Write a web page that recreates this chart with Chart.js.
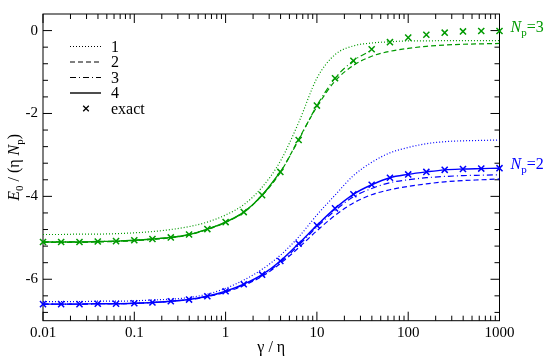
<!DOCTYPE html>
<html>
<head>
<meta charset="utf-8">
<script src="https://cdn.jsdelivr.net/npm/chart.js@4"></script>
<style>
  html, body { margin: 0; padding: 0; background: #fff; }
  canvas { display: block; }
</style>
</head>
<body>
<canvas id="chart" width="545" height="357"></canvas>
<script>
// gamma / eta sample points (log spaced)
const gammaOverEta = [0.01, 0.0158, 0.0251, 0.0398, 0.0631, 0.1, 0.158, 0.251, 0.398, 0.631,
                      1, 1.58, 2.51, 3.98, 6.31, 10, 15.8, 25.1, 39.8, 63.1,
                      100, 158, 251, 398, 631, 1000];

const xTicks = [0.01, 0.1, 1, 10, 100, 1000];
const yTicks = [-6, -4, -2, 0];
const curveLabels = ['1', '2', '3', '4', 'exact'];

// N_p = 3 (green)
const np3Curve1 = [-4.92, -4.92, -4.91, -4.91, -4.90, -4.88, -4.85, -4.80, -4.73, -4.62,
                   -4.45, -4.20, -3.78, -3.15, -2.22, -1.15, -0.58, -0.37, -0.30, -0.27,
                   -0.25, -0.25, -0.24, -0.24, -0.24, -0.24];
const np3Curve2 = [-5.11, -5.11, -5.11, -5.10, -5.09, -5.07, -5.04, -5.00, -4.93, -4.80,
                   -4.63, -4.39, -3.98, -3.42, -2.62, -1.84, -1.22, -0.84, -0.62, -0.50,
                   -0.43, -0.38, -0.35, -0.33, -0.32, -0.31];
const np3Curve3 = [-5.10, -5.10, -5.10, -5.09, -5.08, -5.06, -5.03, -4.99, -4.92, -4.79,
                   -4.62, -4.38, -3.97, -3.41, -2.64, -1.81, -1.15, -0.73, -0.47];
const np3Curve4 = [-5.10, -5.10, -5.10, -5.09, -5.08, -5.06, -5.03, -4.99, -4.92, -4.79,
                   -4.62, -4.38, -3.97, -3.41];
const np3Exact  = [-5.10, -5.10, -5.10, -5.09, -5.08, -5.06, -5.03, -4.99, -4.92, -4.79,
                   -4.62, -4.38, -3.97, -3.41, -2.64, -1.81, -1.15, -0.73, -0.45, -0.28,
                   -0.17, -0.10, -0.05, -0.02, -0.01, -0.01];

// N_p = 2 (blue)
const np2Curve1 = [-6.54, -6.54, -6.54, -6.53, -6.53, -6.52, -6.50, -6.48, -6.44, -6.36,
                   -6.22, -6.02, -5.76, -5.42, -4.98, -4.45, -3.97, -3.50, -3.18, -2.95,
                   -2.82, -2.73, -2.68, -2.66, -2.65, -2.64];
const np2Curve2 = [-6.60, -6.60, -6.60, -6.59, -6.59, -6.58, -6.56, -6.53, -6.49, -6.42,
                   -6.31, -6.15, -5.93, -5.62, -5.24, -4.83, -4.46, -4.16, -3.96, -3.84,
                   -3.76, -3.70, -3.65, -3.62, -3.60, -3.58];
const np2Curve3 = [-6.60, -6.60, -6.60, -6.59, -6.59, -6.58, -6.56, -6.53, -6.49, -6.41,
                   -6.30, -6.13, -5.91, -5.59, -5.18, -4.74, -4.34, -4.01, -3.81, -3.67,
                   -3.60, -3.55, -3.52, -3.50, -3.49, -3.48];
const np2Curve4 = [-6.60, -6.60, -6.60, -6.59, -6.59, -6.58, -6.56, -6.53, -6.49, -6.41,
                   -6.29, -6.12, -5.89, -5.56, -5.14, -4.70, -4.29, -3.95, -3.72, -3.55,
                   -3.47, -3.41, -3.36, -3.34, -3.33, -3.32];
const np2Exact  = [-6.60, -6.60, -6.60, -6.59, -6.59, -6.58, -6.56, -6.53, -6.49, -6.41,
                   -6.29, -6.12, -5.89, -5.56, -5.14, -4.70, -4.29, -3.95, -3.72, -3.55,
                   -3.47, -3.41, -3.36, -3.34, -3.33, -3.32];

const GREEN = '#009a00';
const BLUE = '#0000ff';
const FONT = "'Liberation Serif', 'DejaVu Serif', serif";

// dash pattern for the curve types 1..4
const dashes = [[1, 2], [5, 3], [6, 3, 1, 3], []];
const widths = [1.2, 1.2, 1.2, 1.4];

function toPoints(values) {
  return values.map((v, i) => ({ x: gammaOverEta[i], y: v }));
}

function curve(values, color, kind) {
  return {
    label: curveLabels[kind],
    data: toPoints(values),
    borderColor: color,
    borderWidth: widths[kind],
    borderDash: dashes[kind],
    pointRadius: 0,
    fill: false,
    cubicInterpolationMode: 'monotone'
  };
}

function exact(values, color) {
  return {
    label: 'exact',
    data: toPoints(values),
    showLine: false,
    borderColor: color,
    borderWidth: 1.5,
    pointStyle: 'crossRot',
    pointRadius: 4.3,
    clip: false
  };
}

// frame, inward ticks, legend and the math-style labels
const decorations = {
  id: 'decorations',
  beforeDatasetsDraw(chart) {
    const { ctx, chartArea: a, scales: { x, y } } = chart;
    ctx.save();
    ctx.strokeStyle = '#000';
    ctx.lineWidth = 1;
    ctx.strokeRect(a.left, a.top, a.right - a.left, a.bottom - a.top);

    ctx.beginPath();
    // x ticks, major and minor, on bottom and top
    for (let d = 0.01; d < 1001; d *= 10) {
      for (let m = 1; m <= 9; m++) {
        const v = d * m;
        if (v > 1000.001) break;
        const px = x.getPixelForValue(v);
        const len = m === 1 ? 9 : 5;
        ctx.moveTo(px, a.bottom); ctx.lineTo(px, a.bottom - len);
        ctx.moveTo(px, a.top); ctx.lineTo(px, a.top + len);
      }
    }
    // y ticks every 0.4, majors every 2
    for (let k = -17; k <= 0; k++) {
      const v = k * 0.4;
      const py = y.getPixelForValue(v);
      const len = k % 5 === 0 ? 9 : 5;
      ctx.moveTo(a.left, py); ctx.lineTo(a.left + len, py);
      ctx.moveTo(a.right, py); ctx.lineTo(a.right - len, py);
    }
    ctx.stroke();
    ctx.restore();
  },
  afterDraw(chart) {
    const { ctx, chartArea: a, scales: { y } } = chart;
    ctx.save();

    // legend
    const lx = a.left + 27, ly = a.top + 32.5, step = 15.5;
    ctx.font = '16px ' + FONT;
    ctx.textBaseline = 'middle';
    ctx.fillStyle = '#000';
    ctx.strokeStyle = '#000';
    curveLabels.forEach((lab, i) => {
      const yy = ly + i * step;
      if (i < 4) {
        ctx.lineWidth = widths[i];
        ctx.setLineDash(dashes[i]);
        ctx.beginPath();
        ctx.moveTo(lx, yy); ctx.lineTo(lx + 31, yy);
        ctx.stroke();
      } else {
        ctx.setLineDash([]);
        ctx.lineWidth = 1.3;
        const cx = lx + 16, r = 2.8;
        ctx.beginPath();
        ctx.moveTo(cx - r, yy - r); ctx.lineTo(cx + r, yy + r);
        ctx.moveTo(cx - r, yy + r); ctx.lineTo(cx + r, yy - r);
        ctx.stroke();
      }
      ctx.fillText(lab, lx + 41, yy + 1);
    });
    ctx.setLineDash([]);

    // pieces of text with italic letters and subscripts
    function drawParts(parts, x0, y0) {
      let xx = x0;
      parts.forEach(p => {
        ctx.font = (p.italic ? 'italic ' : '') + (p.sub ? 11 : 16) + 'px ' + FONT;
        ctx.fillText(p.t, xx, y0 + (p.sub ? 4 : 0));
        xx += ctx.measureText(p.t).width;
      });
    }
    function partsWidth(parts) {
      let w = 0;
      parts.forEach(p => {
        ctx.font = (p.italic ? 'italic ' : '') + (p.sub ? 11 : 16) + 'px ' + FONT;
        w += ctx.measureText(p.t).width;
      });
      return w;
    }

    ctx.textBaseline = 'alphabetic';
    ctx.textAlign = 'left';

    // N_p labels at the end of the exact points
    const lastX = a.right + 11;
    ctx.fillStyle = GREEN;
    drawParts([{ t: 'N', italic: true }, { t: 'p', sub: true }, { t: '=3' }],
      lastX, y.getPixelForValue(np3Exact[np3Exact.length - 1]) + 1);
    ctx.fillStyle = BLUE;
    drawParts([{ t: 'N', italic: true }, { t: 'p', sub: true }, { t: '=2' }],
      lastX, y.getPixelForValue(np2Exact[np2Exact.length - 1]) + 1);

    // axis titles
    ctx.fillStyle = '#000';
    const xTitle = [{ t: 'γ / η' }];
    drawParts(xTitle, (a.left + a.right) / 2 - partsWidth(xTitle) / 2, 352);

    const yTitle = [{ t: 'E', italic: true }, { t: '0', sub: true }, { t: ' / (η ' },
                    { t: 'N', italic: true }, { t: 'p', sub: true }, { t: ')' }];
    ctx.translate(19, (a.top + a.bottom) / 2);
    ctx.rotate(-Math.PI / 2);
    drawParts(yTitle, -partsWidth(yTitle) / 2, 0);

    ctx.restore();
  }
};

new Chart(document.getElementById('chart'), {
  type: 'scatter',
  data: {
    datasets: [
      exact(np3Exact, GREEN),
      curve(np3Curve4, GREEN, 3),
      curve(np3Curve3, GREEN, 2),
      curve(np3Curve2, GREEN, 1),
      curve(np3Curve1, GREEN, 0),
      exact(np2Exact, BLUE),
      curve(np2Curve4, BLUE, 3),
      curve(np2Curve3, BLUE, 2),
      curve(np2Curve2, BLUE, 1),
      curve(np2Curve1, BLUE, 0)
    ].map(ds => Object.assign({ showLine: true }, ds))
  },
  options: {
    responsive: false,
    devicePixelRatio: 1,
    animation: false,
    events: [],
    layout: { padding: { top: 1, right: 45.5, left: 0, bottom: 0 } },
    scales: {
      x: {
        type: 'logarithmic',
        min: 0.01,
        max: 1000,
        bounds: 'data',
        afterBuildTicks(scale) { scale.ticks = xTicks.map(v => ({ value: v })); },
        afterFit(scale) { scale.height = 36.3; },
        grid: { display: false, drawTicks: false },
        border: { display: false },
        ticks: {
          autoSkip: false,
          maxRotation: 0,
          padding: 3,
          color: '#000',
          font: { size: 15, family: FONT },
          callback: v => String(v)
        }
      },
      y: {
        type: 'linear',
        min: -7,
        max: 0.4,
        bounds: 'data',
        afterBuildTicks(scale) { scale.ticks = yTicks.map(v => ({ value: v })); },
        afterFit(scale) { scale.width = 43; },
        grid: { display: false, drawTicks: false },
        border: { display: false },
        ticks: {
          padding: 5,
          color: '#000',
          font: { size: 15, family: FONT },
          callback: v => String(v)
        }
      }
    },
    plugins: {
      legend: { display: false },
      tooltip: { enabled: false }
    }
  },
  plugins: [decorations]
});
</script>
</body>
</html>
